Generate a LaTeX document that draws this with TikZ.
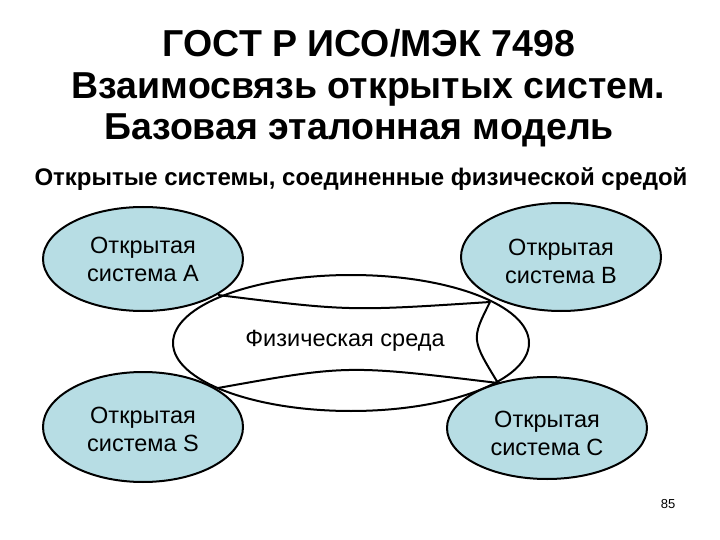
\documentclass[tikz,border=0pt]{standalone}
\usepackage{fontspec}
\setmainfont{Liberation Sans}
\usetikzlibrary{shapes.geometric}
\definecolor{sysblue}{RGB}{183,221,228}
\begin{document}
\begin{tikzpicture}[x=1pt,y=-1pt,
  sysnode/.style={ellipse, draw=black, line width=2pt, fill=sysblue,
    minimum width=200pt, inner sep=0pt, align=center,
    font=\fontsize{23.5}{28}\selectfont},
  medium/.style={ellipse, draw=black, line width=2pt, fill=white,
    minimum width=356pt, minimum height=136pt, inner sep=0pt},
  chord/.style={line width=2pt},
  titletext/.style={anchor=base, inner sep=0pt, font=\fontsize{37.5}{42}\selectfont\bfseries},
  subtext/.style={anchor=base, inner sep=0pt, font=\fontsize{24}{28}\selectfont\bfseries},
  plaintext/.style={inner sep=0pt, font=\fontsize{23.5}{28}\selectfont}]
\useasboundingbox[fill=white] (0,0) rectangle (720,540);

\node[titletext] (t1) at (369,57) {ГОСТ Р ИСО/МЭК 7498};
\node[titletext] (t2) at (368.5,98.5) {Взаимосвязь открытых систем.};
\node[titletext] (t3) at (359,140) {Базовая эталонная модель};
\node[subtext] (sub) at (361,186) {Открытые системы, соединенные физической средой};

\node[medium] (phys) at (351,343) {};
\node[plaintext] (physlabel) at (345,341) {Физическая среда};

\coordinate (jA) at (218,295);
\coordinate (jB) at (490,302);
\coordinate (jS) at (218,388);
\coordinate (jC) at (498,383);
\draw[chord] (jA) .. controls (348.7,311.2) .. (jB);
\draw[chord] (jS) .. controls (347.3,364.8) .. (jC);
\draw[chord] (jB) .. controls (471.3,339.2) .. (jC);

\node[sysnode, minimum height=104pt] (A) at (143,259) {Открытая\\система A};
\node[sysnode, minimum height=108pt] (B) at (561,257) {\rule{0pt}{25pt}Открытая\\система B};
\node[sysnode, minimum height=110pt] (S) at (143,427) {\rule{0pt}{21pt}Открытая\\система S};
\node[sysnode, minimum height=102pt] (C) at (547,428) {\rule{0pt}{28pt}Открытая\\система C};

\node[inner sep=0pt, font=\fontsize{13}{15}\selectfont] (page) at (668,504) {85};
\end{tikzpicture}
\end{document}
